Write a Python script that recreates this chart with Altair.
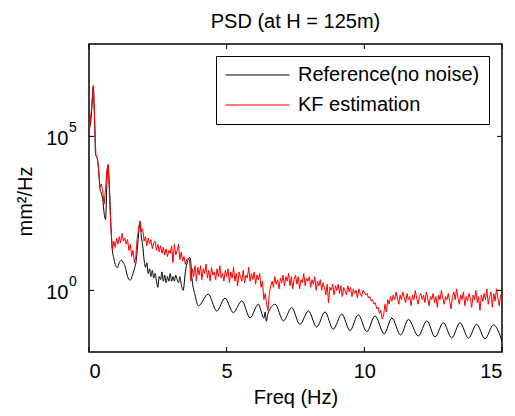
import altair as alt
import pandas as pd

# ---- data (log10 of PSD) ----
red_log = [
    5.2, 5.5, 6.0, 6.66, 5.7, 4.4, 4.3, 3.9, 3.35, 3.45, 3.2, 2.8, 3.3, 3.9, 4.1, 2.9, 2.0, 1.3, 1.6, 1.4,
    1.7, 1.5, 1.75, 1.55, 1.85, 1.6, 1.7, 1.5, 1.65, 1.3, 1.5, 1.1, 1.3, 0.9, 1.1, 1.7, 2.0, 2.26, 1.9, 2.0,
    1.6, 1.75, 1.45, 1.7, 1.5, 1.65, 1.35, 1.55, 1.6, 1.3, 1.5, 1.25, 1.45, 1.2, 1.4, 1.15, 1.35, 1.1, 1.3, 1.2,
    1.45, 0.9, 1.5, 1.15, 1.3, 1.5, 1.0, 1.25, 0.95, 1.1, 0.85, 1.0, 1.05, 1.0, 0.3, 0.7, 0.45, 0.8, 0.3, 0.75,
    0.5, 0.8, 0.35, 0.7, 0.55, 0.85, 0.4, 0.65, 0.3, 0.75, 0.5, 0.6, 0.35, 0.7, 0.45, 0.8, 0.4, 0.55, 0.3, 0.65,
    0.45, 0.7, 0.25, 0.6, 0.4, 0.75, 0.3, 0.55, 0.15, 0.6, 0.45, 0.3, 0.65, 0.25, 0.5, 0.4, 0.75, 0.3, 0.55, 0.35,
    0.6, 0.2, 0.5, 0.35, 0.55, 0.1, 0.3, -0.3, -0.1, -0.45, -0.65, -0.1, 0.15, 0.3, 0.1, 0.45, 0.2, 0.35, 0.05, 0.4,
    0.25, 0.5, 0.15, 0.45, 0.3, 0.55, 0.15, 0.45, 0.05, 0.35, 0.5, 0.2, 0.45, 0.05, 0.35, 0.25, 0.55, 0.15, 0.4, 0.3,
    0.45, 0.1, 0.35, 0.2, 0.45, 0.0, 0.3, 0.15, 0.35, 0.0, 0.25, 0.1, -0.15, 0.2, -0.4, 0.1, 0.0, 0.2, -0.15, 0.15,
    0.0, 0.2, -0.1, 0.15, -0.2, 0.1, 0.0, -0.15, 0.15, -0.05, 0.1, -0.2, 0.05, -0.1, 0.0, -0.25, 0.05, -0.1, -0.2, 0.0,
    -0.05, -0.15, -0.1, -0.25, -0.2, -0.35, -0.3, -0.45, -0.4, -0.6, -0.55, -0.75, -0.65, -0.93, -0.8, -0.45, -0.7, -0.3, -0.45, -0.2,
    -0.35, -0.15, -0.3, -0.05, -0.25, -0.45, -0.15, -0.3, -0.05, -0.25, -0.4, -0.1, -0.3, -0.2, -0.5, -0.15, -0.3, 0.0, -0.25, -0.45,
    -0.2, -0.1, -0.3, -0.15, -0.4, -0.05, -0.25, -0.5, -0.2, -0.3, -0.1, -0.4, -0.2, -0.55, -0.15, -0.3, 0.0, -0.25, -0.45, -0.2,
    -0.3, -0.1, -0.35, -0.6, -0.2, -0.05, -0.3, 0.05, -0.25, -0.45, -0.15, -0.3, -0.05, -0.5, -0.2, -0.35, -0.1, -0.25, -0.55, -0.15,
    -0.3, 0.0, -0.4, -0.2, -0.65, -0.15, -0.35, -0.1, -0.3, 0.05, -0.45, -0.2, -0.05, -0.55, -0.1, -0.35, 0.05, -0.25, -0.5, -0.15,
    -0.3,
]
red_freq = [round(i * 0.05, 2) for i in range(len(red_log))]

black_freq = [
    0.00, 0.05, 0.10, 0.16, 0.20, 0.24, 0.30, 0.35, 0.40, 0.45, 0.50, 0.55, 0.60, 0.65, 0.68, 0.75, 0.80, 0.85,
    0.90, 0.95, 1.03, 1.10, 1.18, 1.25, 1.32, 1.40, 1.50, 1.58, 1.65, 1.72, 1.78, 1.85, 1.90, 1.95, 2.00, 2.05,
    2.10, 2.15, 2.20, 2.25, 2.30, 2.35, 2.40, 2.45, 2.50, 2.55, 2.60, 2.65, 2.70, 2.75, 2.80, 2.85, 2.90, 2.95,
    3.00, 3.05, 3.10, 3.15, 3.20, 3.25, 3.30, 3.35, 3.42, 3.50, 3.58, 3.67, 3.75, 3.85, 3.97, 4.33, 4.64, 4.94,
    5.24, 5.55, 5.85, 6.15, 6.35, 6.40, 6.44, 6.50, 6.76, 7.06, 7.36, 7.66, 7.97, 8.27, 8.57, 8.87, 9.18, 9.48,
    9.78, 10.09, 10.39, 10.72, 11.00, 11.32, 11.60, 11.96, 12.27, 12.57, 12.87, 13.17, 13.48, 13.78, 14.08,
    14.38, 14.69, 15.00,
]
black_log = [
    5.2, 5.4, 5.9, 6.6, 5.6, 4.4, 4.3, 3.9, 3.3, 3.15, 2.95, 2.5, 2.3, 3.5, 4.05, 3.2, 2.0, 1.3,
    1.05, 0.85, 0.74, 0.9, 0.98, 0.9, 0.75, 0.45, 0.33, 0.5, 0.7, 1.0, 1.6, 2.2, 1.75, 1.45, 1.0, 0.75,
    0.9, 0.55, 0.7, 0.45, 0.65, 0.4, 0.55, 0.3, 0.1, 0.45, 0.35, 0.6, 0.3, 0.5, 0.25, 0.45, 0.3, 0.55,
    0.3, 0.45, 0.3, 0.5, 0.35, 0.25, 0.45, 0.2, 0.0, 0.6, 0.95, 1.07, 0.3, -0.15, -0.5, -0.12, -0.67, -0.25,
    -0.72, -0.34, -0.89, -0.45, -0.9, -0.7, -1.0, -0.75, -0.45, -0.99, -0.56, -1.1, -0.67, -1.19, -0.7, -1.26, -0.77, -1.3,
    -0.79, -1.34, -0.83, -1.41, -0.9, -1.45, -0.94, -1.48, -0.99, -1.51, -1.05, -1.54, -1.05, -1.55, -1.1,
    -1.57, -1.12, -1.64,
]

series_names = ["Reference(no noise)", "KF estimation"]
series_colors = ["#000000", "#ff0000"]
x_ticks = [0, 5, 10, 15]
y_ticks = [1, 100000]
y_exponents = ["0", "5"]
title_text = "PSD (at H = 125m)"
x_title = "Freq (Hz)"
y_title = "mm²/Hz"

# ---- layout ----
W, H = 413, 308
FONT = "Liberation Sans"
FS = 20

df_black = pd.DataFrame({"freq": black_freq, "psd": [10 ** v for v in black_log], "series": series_names[0]})
df_red = pd.DataFrame({"freq": red_freq, "psd": [10 ** v for v in red_log], "series": series_names[1]})

xs = alt.Scale(domain=[0, 15], nice=False, zero=False)
ys = alt.Scale(type="log", domain=[1e-2, 1e8], nice=False)
cs = alt.Scale(domain=series_names, range=series_colors)

x_axis = alt.Axis(values=x_ticks, title=x_title, grid=False, domain=False, ticks=False,
                  labelFontSize=FS, labelFont=FONT, labelColor="black", labelPadding=9,
                  titleFontSize=FS, titleFont=FONT, titleFontWeight="normal", titleColor="black",
                  titleX=W / 2, titleY=51, titleBaseline="alphabetic", titleAlign="center")
y_axis = alt.Axis(values=y_ticks, title=y_title, grid=False, domain=False, ticks=False,
                  labelExpr="'10'", labelOffset=2,
                  labelFontSize=FS, labelFont=FONT, labelColor="black", labelPadding=21,
                  titleFontSize=FS, titleFont=FONT, titleFontWeight="normal", titleColor="black",
                  titleX=-64, titleY=157, titleAngle=270, titleAlign="center", titleBaseline="middle")

legend = alt.Legend(orient="none", legendX=127, legendY=12, title=None, symbolType="stroke",
                    symbolSize=4096, symbolStrokeWidth=1, labelFontSize=FS, labelFont=FONT,
                    labelColor="black", labelLimit=400, strokeColor="black", fillColor="white",
                    padding=9, rowPadding=10, labelOffset=8, clipHeight=20, cornerRadius=0)

black_line = alt.Chart(df_black).mark_line(strokeWidth=1, interpolate="monotone").encode(
    x=alt.X("freq:Q", scale=xs, axis=x_axis),
    y=alt.Y("psd:Q", scale=ys, axis=y_axis),
    color=alt.Color("series:N", scale=cs, legend=legend),
)
red_line = alt.Chart(df_red).mark_line(strokeWidth=1).encode(
    x=alt.X("freq:Q", scale=xs, axis=x_axis),
    y=alt.Y("psd:Q", scale=ys, axis=y_axis),
    color=alt.Color("series:N", scale=cs, legend=legend),
)

xt = pd.DataFrame({"t": x_ticks})
yt = pd.DataFrame({"t": y_ticks, "e": y_exponents})
tick_bottom = alt.Chart(xt).mark_rule(color="black", strokeWidth=1).encode(
    x=alt.X("t:Q", scale=xs, axis=x_axis), y=alt.value(H), y2=alt.value(H - 5))
tick_top = alt.Chart(xt).mark_rule(color="black", strokeWidth=1).encode(
    x=alt.X("t:Q", scale=xs, axis=x_axis), y=alt.value(0), y2=alt.value(5))
tick_left = alt.Chart(yt).mark_rule(color="black", strokeWidth=1).encode(
    y=alt.Y("t:Q", scale=ys, axis=y_axis), x=alt.value(0), x2=alt.value(5))
tick_right = alt.Chart(yt).mark_rule(color="black", strokeWidth=1).encode(
    y=alt.Y("t:Q", scale=ys, axis=y_axis), x=alt.value(W), x2=alt.value(W - 5))
exponents = alt.Chart(yt).mark_text(align="left", baseline="alphabetic", fontSize=14, font=FONT,
                                    color="black", dy=-4).encode(
    y=alt.Y("t:Q", scale=ys, axis=y_axis), x=alt.value(-20), text="e:N")

chart = alt.layer(black_line, red_line, tick_bottom, tick_top, tick_left, tick_right, exponents).properties(
    width=W, height=H,
    background="white",
    title=alt.TitleParams(title_text, fontSize=FS, font=FONT, fontWeight="normal", color="black",
                          anchor="middle", offset=12),
    autosize=alt.AutoSizeParams(type="none"),
    padding={"left": 89, "top": 44, "right": 13, "bottom": 64},
).configure_view(stroke="black", strokeWidth=1.5)

chart.save("out.html", embed_options={"renderer": "svg", "actions": False})
